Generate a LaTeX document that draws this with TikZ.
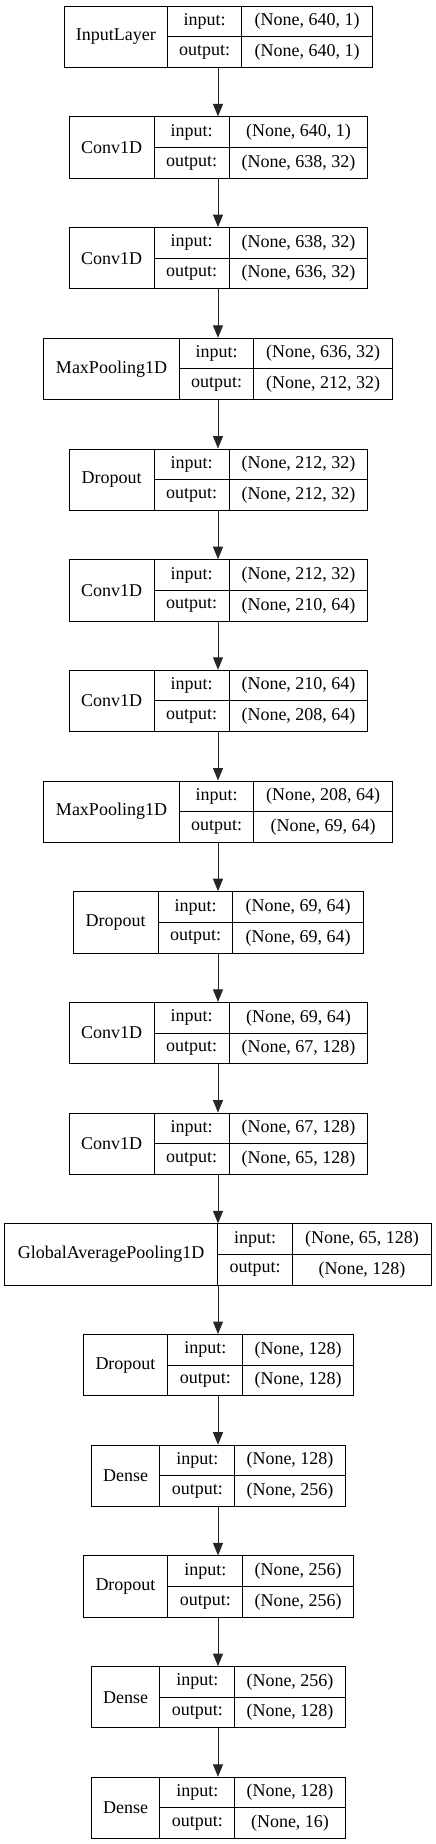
\documentclass[tikz,border=0pt]{standalone}
\usepackage{fontspec}
\setmainfont{Liberation Serif}
\usetikzlibrary{arrows.meta,fit}
\tikzset{
  cell/.style={draw=black, line width=1pt, inner sep=0pt, anchor=north west, font=\fontsize{18}{21}\selectfont},
  arr/.style={draw=black!85, line width=1pt, -{Triangle[length=12.5pt,width=10pt]}},
  wrap/.style={inner sep=0pt, outer sep=0pt}
}
\newcommand\boxH{61.3}
% #1 name, #2 top, #3 x0, #4 d1, #5 d2, #6 x1, #7 label, #8 in, #9 out
\newcommand\klayer[9]{%
  \node[cell, minimum width={(#4-#3)*1pt}, minimum height={\boxH*1pt}] (#1) at (#3,#2) {#7};
  \node[cell, minimum width={(#5-#4)*1pt}, minimum height={\boxH*0.5pt}] (#1-ik) at (#4,#2) {input:};
  \node[cell, minimum width={(#6-#5)*1pt}, minimum height={\boxH*0.5pt}] (#1-iv) at (#5,#2) {#8};
  \node[cell, minimum width={(#5-#4)*1pt}, minimum height={\boxH*0.5pt}] (#1-ok) at (#4,{#2+\boxH/2}) {output:};
  \node[cell, minimum width={(#6-#5)*1pt}, minimum height={\boxH*0.5pt}] (#1-ov) at (#5,{#2+\boxH/2}) {#9};
  \node[wrap, fit=(#1)(#1-iv)(#1-ov)] (#1-all) {};
}
\begin{document}
\begin{tikzpicture}[x=1pt,y=-1pt]
\useasboundingbox (0,0) rectangle (436,1844);
\klayer{L0}{5.7}{64}{166.7}{241.3}{372}{InputLayer}{(None, 640, 1)}{(None, 640, 1)}
\klayer{L1}{116.4}{68.7}{153.7}{228.7}{367.3}{Conv1D}{(None, 640, 1)}{(None, 638, 32)}
\klayer{L2}{227.1}{68.7}{153.7}{228.7}{367.3}{Conv1D}{(None, 638, 32)}{(None, 636, 32)}
\klayer{L3}{337.8}{43.3}{178.7}{253.3}{392}{MaxPooling1D}{(None, 636, 32)}{(None, 212, 32)}
\klayer{L4}{448.5}{68.7}{153.7}{228.7}{367.3}{Dropout}{(None, 212, 32)}{(None, 212, 32)}
\klayer{L5}{559.2}{68.7}{153.7}{228.7}{367.3}{Conv1D}{(None, 212, 32)}{(None, 210, 64)}
\klayer{L6}{669.8}{68.7}{153.7}{228.7}{367.3}{Conv1D}{(None, 210, 64)}{(None, 208, 64)}
\klayer{L7}{780.5}{43.3}{178.7}{253.3}{392}{MaxPooling1D}{(None, 208, 64)}{(None, 69, 64)}
\klayer{L8}{891.2}{72.7}{157.7}{232.3}{363}{Dropout}{(None, 69, 64)}{(None, 69, 64)}
\klayer{L9}{1001.9}{68.7}{153.7}{228.7}{367.3}{Conv1D}{(None, 69, 64)}{(None, 67, 128)}
\klayer{L10}{1112.6}{68.7}{153.7}{228.7}{367.3}{Conv1D}{(None, 67, 128)}{(None, 65, 128)}
\klayer{L11}{1223.3}{4}{217.3}{292}{431}{GlobalAveragePooling1D}{(None, 65, 128)}{(None, 128)}
\klayer{L12}{1334.0}{82.7}{167.3}{242.3}{353}{Dropout}{(None, 128)}{(None, 128)}
\klayer{L13}{1444.7}{91}{159.3}{234.3}{344.7}{Dense}{(None, 128)}{(None, 256)}
\klayer{L14}{1555.4}{82.7}{167.3}{242.3}{353}{Dropout}{(None, 256)}{(None, 256)}
\klayer{L15}{1666.1}{91}{159.3}{234.3}{344.7}{Dense}{(None, 256)}{(None, 128)}
\klayer{L16}{1776.8}{91}{159.3}{234.3}{344.7}{Dense}{(None, 128)}{(None, 16)}
\foreach \a/\b in {L0/L1,L1/L2,L2/L3,L3/L4,L4/L5,L5/L6,L6/L7,L7/L8,L8/L9,L9/L10,L10/L11,L11/L12,L12/L13,L13/L14,L14/L15,L15/L16}
  \draw[arr] (\a-all.south -| 218,0) -- (\b-all.north -| 218,0);
\end{tikzpicture}
\end{document}
